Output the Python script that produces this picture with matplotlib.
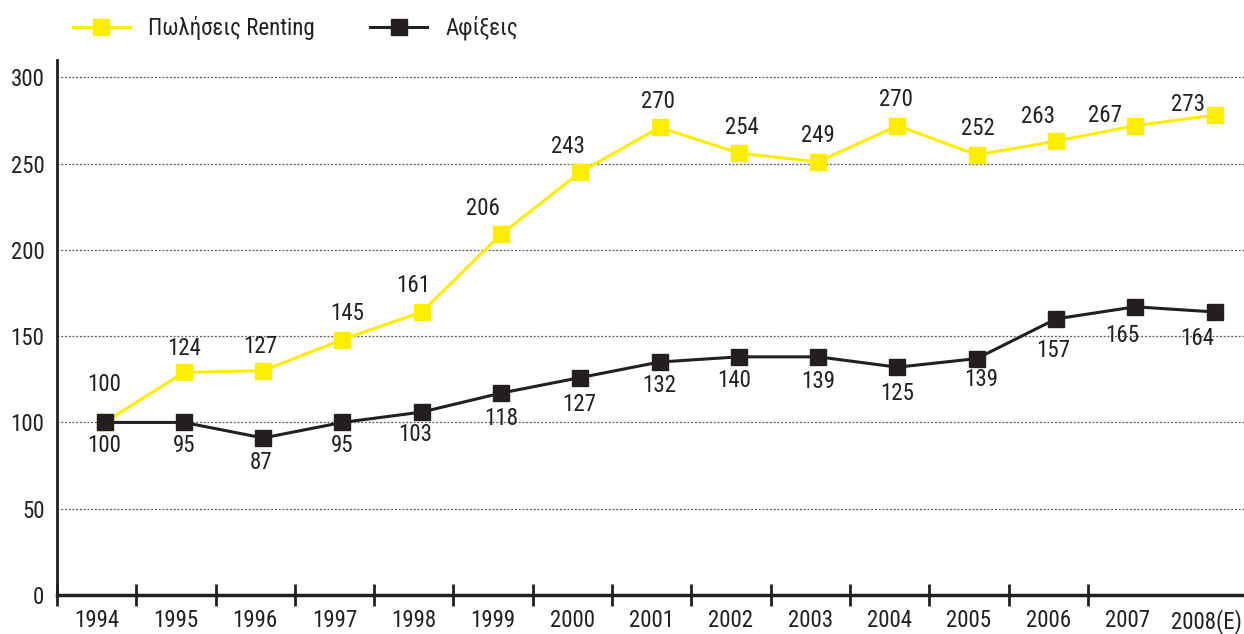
import numpy as np
import matplotlib
matplotlib.use("Agg")
import matplotlib.pyplot as plt

plt.rcParams['font.family'] = ['Roboto Condensed', 'DejaVu Sans']

# data (plotted heights) and the printed labels
years = ['1994', '1995', '1996', '1997', '1998', '1999', '2000', '2001',
         '2002', '2003', '2004', '2005', '2006', '2007', '2008(E)']
renting = [100, 129, 130, 148, 164, 209, 245, 271, 256, 251, 272, 255, 263, 272, 278]
arrivals = [100, 100, 91, 100, 106, 117, 126, 135, 138, 138, 132, 137, 160, 167, 164]
renting_labels = ['100', '124', '127', '145', '161', '206', '243', '270',
                  '254', '249', '270', '252', '263', '267', '273']
arrivals_labels = ['100', '95', '87', '95', '103', '118', '127', '132',
                   '140', '139', '125', '139', '157', '165', '164']

# label placement tweaks in pixels (dx, dy)
renting_off = [(0, 38), (0, 24), (-3, 24), (5, 26), (-8, 26), (-18, 26), (-12, 26), (-2, 26),
               (3, 26), (0, 26), (-2, 26), (1, 26), (-18, 25), (-30, 10), (-27, 11)]
arrivals_off = [(0, -23), (0, -23), (-2, -25), (0, -23), (-7, -22), (0, -25), (-1, -27), (0, -23),
                (-5, -24), (0, -25), (0, -26), (4, -21), (-3, -32), (-13, -29), (-17, -27)]

yellow = '#FFED00'
dark = '#231F20'
fs = 16.5

fig = plt.figure(figsize=(12.44, 6.34), dpi=100)
ax = fig.add_axes([57 / 1244, 39 / 634, 1 - 57 / 1244, 535 / 634])

x = np.arange(len(years)) + 0.1
ax.plot(x, renting, color=yellow, lw=2.2, marker='s', ms=11, mfc=yellow, mec=yellow,
        label='Πωλήσεις Renting', zorder=3)
ax.plot(x, arrivals, color=dark, lw=2.2, marker='s', ms=11, mfc=dark, mec=dark,
        label='Αφίξεις', zorder=3)

for xi, v, t, (dx, dy) in zip(x, renting, renting_labels, renting_off):
    ax.annotate(t, (xi, v), xytext=(dx * 0.72, dy * 0.72), textcoords='offset points',
                ha='center', va='center', fontsize=fs, color=dark)
for xi, v, t, (dx, dy) in zip(x, arrivals, arrivals_labels, arrivals_off):
    ax.annotate(t, (xi, v), xytext=(dx * 0.72, dy * 0.72), textcoords='offset points',
                ha='center', va='center', fontsize=fs, color=dark)

ax.set_xlim(-0.5, 14.47)
ax.set_ylim(0, 310)
ax.set_yticks([0, 50, 100, 150, 200, 250, 300])
ax.tick_params(axis='y', length=0, pad=9, labelsize=fs, colors=dark)
for g in [50, 100, 150, 200, 250, 300]:
    ax.axhline(g, color='#555555', lw=0.9, ls=(0, (1.5, 1.5)), zorder=1)

ax.set_xticks(np.arange(len(years)))
ax.set_xticklabels(years)
ax.set_xticks(np.arange(len(years) - 1) - 0.5, minor=True)
ax.tick_params(axis='x', which='major', length=0, pad=10, labelsize=fs, colors=dark)
ax.tick_params(axis='x', which='minor', direction='inout', length=16, width=2, color=dark)

for s in ['top', 'right']:
    ax.spines[s].set_visible(False)
ax.spines['left'].set_linewidth(2)
ax.spines['left'].set_color(dark)
ax.spines['bottom'].set_linewidth(2.5)
ax.spines['bottom'].set_color(dark)

fig.legend(loc='center left', bbox_to_anchor=(52 / 1244, 1 - 28 / 634), ncol=2, frameon=False,
           fontsize=fs, handlelength=2.5, handletextpad=0.8, columnspacing=2.4, labelcolor=dark)

fig.savefig('out.png', dpi=100)
